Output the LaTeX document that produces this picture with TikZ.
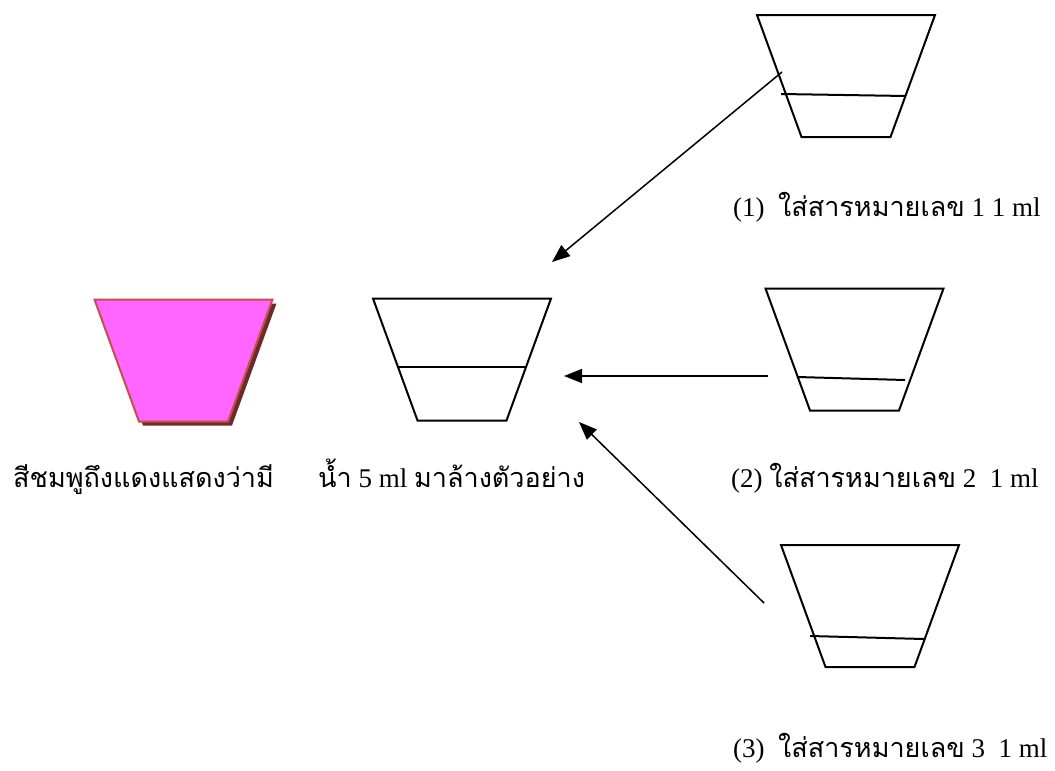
\documentclass[tikz,border=0pt]{standalone}
\usepackage{fontspec}
\setmainfont{Liberation Serif}
\newfontfamily\thaifont[Script=Thai]{Loma}
\usetikzlibrary{arrows.meta}

\definecolor{pinkfill}{HTML}{FF66FF}
\definecolor{pinkedge}{HTML}{C0504D}
\definecolor{pinkshadow}{HTML}{6E2A2A}

\newcommand{\thtext}[1]{{\thaifont\fontsize{27}{32}\selectfont #1}}
% cup outline around the current origin: 178 wide on top, 89 at the foot, 122 high
\newcommand{\cuppath}{(-89,-61) -- (89,-61) -- (44.5,61) -- (-44.5,61) -- cycle}

\tikzset{
  cupline/.style={draw, line width=2pt, line join=miter},
  level/.style={line width=2pt},
  pour/.style={line width=1.5pt, -{Triangle[length=18pt,width=14pt]}},
  note/.style={anchor=base west, inner sep=0pt, font=\fontsize{27}{32}\selectfont}
}

\begin{document}
\begin{tikzpicture}[x=1pt, y=-1pt]
\useasboundingbox (0,0) rectangle (1055,771);

% pink cup with its shadow
\coordinate (pinkcup) at (183.5,360.5);
\fill[pinkshadow, shift={(187.5,364.5)}] \cuppath;
\draw[cupline, draw=pinkedge, fill=pinkfill, shift={(183.5,360.5)}] \cuppath;

% empty cups
\foreach \name/\cx/\cy in {wash/462/359.5, cupone/846/76,
                           cuptwo/854.5/349.5, cupthree/870/606} {
  \coordinate (\name) at (\cx,\cy);
  \draw[cupline, shift={(\cx,\cy)}] \cuppath;
}

% liquid levels
\draw[level] (398,367) -- (527,367);
\draw[level] (781,94)  -- (906,96);
\draw[level] (797,377) -- (905,380);
\draw[level] (810,636) -- (924,639);

% labels
\node[note] (pinktext)  at (13,487)  {\thtext{สีชมพูถึงแดงแสดงว่ามี}};
\node[note] (washtext)  at (318,487) {\thtext{น้ำ} 5 ml \thtext{มาล้างตัวอย่าง}};
\node[note] (onetext)   at (733,216) {(1)\enspace \thtext{ใส่สารหมายเลข} 1 1 ml};
\node[note] (twotext)   at (731,487) {(2) \thtext{ใส่สารหมายเลข} 2\enspace 1 ml};
\node[note] (threetext) at (733,757) {(3)\enspace \thtext{ใส่สารหมายเลข} 3\enspace 1 ml};

% arrows into the wash cup
\coordinate (fromone)   at (782,72);
\coordinate (toone)     at (552,262);
\coordinate (fromtwo)   at (768,376);
\coordinate (totwo)     at (564,376);
\coordinate (fromthree) at (764,603);
\coordinate (tothree)   at (579,422);
\draw[pour] (fromone) -- (toone);
\draw[pour] (fromtwo) -- (totwo);
\draw[pour] (fromthree) -- (tothree);

\end{tikzpicture}
\end{document}
